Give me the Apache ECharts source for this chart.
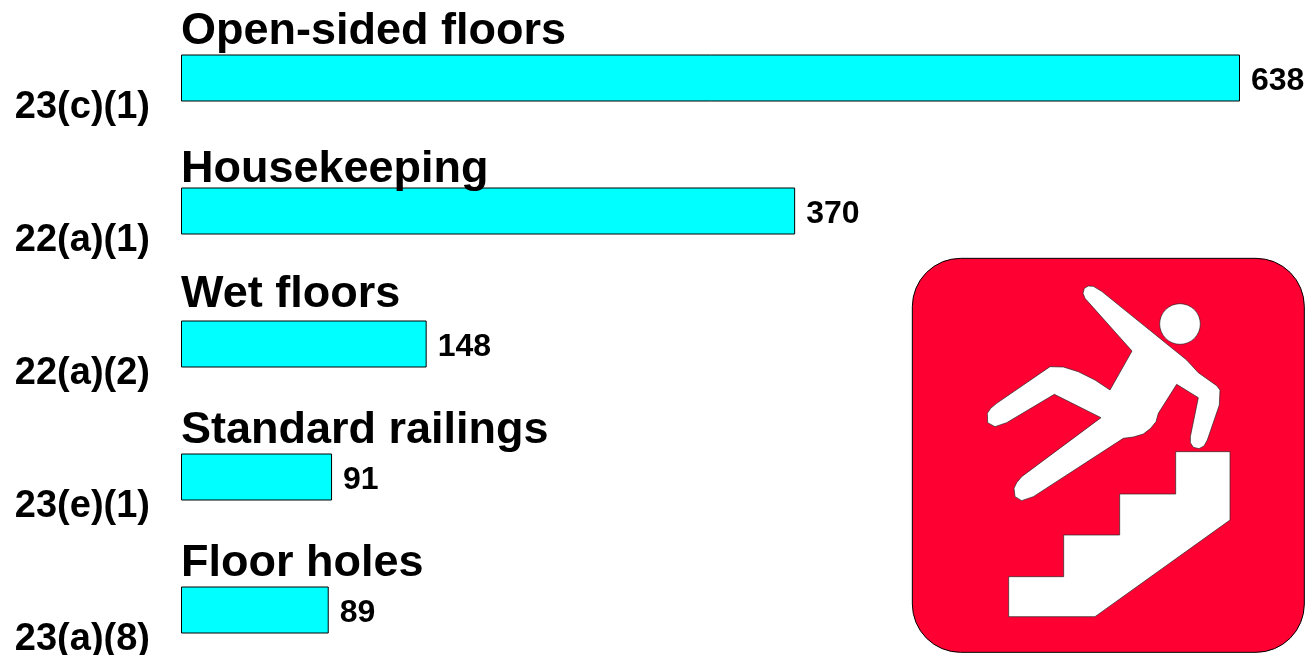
<!DOCTYPE html>
<html>
<head>
    <meta charset="utf-8">
    <title>ECharts</title>
    <script src="https://cdn.jsdelivr.net/npm/echarts/dist/echarts.min.js"></script>
    <style>html, body { margin: 0; background: #fff; }</style>
</head>
<body>
    <div id="main" style="width: 1309px;height:655px;"></div>
    <script>
        var codes = ['23(c)(1)', '22(a)(1)', '22(a)(2)', '23(e)(1)', '23(a)(8)'];
        var titles = ['Open-sided floors', 'Housekeeping', 'Wet floors', 'Standard railings', 'Floor holes'];
        var counts = [638, 370, 148, 91, 89];

        var FONT = '"Liberation Sans", Arial, sans-serif';
        // the titles do not sit at quite the same height above each bar
        var titleOffsets = [-45, -40, -48, -45, -45];

        // slip and fall sign, traced at 3x and scaled back down by the group
        var figurePoints = [
            [549, 130], [553, 115], [565, 108], [580, 109], [605, 124], [860, 330], [895, 368], [950, 407], [960, 420],
            [958, 465], [922, 570], [912, 588], [897, 596], [880, 592], [871, 578], [871, 560], [895, 443], [830, 403],
            [775, 490], [768, 515], [752, 535], [730, 552], [700, 561], [670, 565], [400, 740], [365, 752], [345, 740],
            [342, 715], [350, 698], [365, 680], [603, 503], [463, 433], [320, 518], [285, 530], [263, 518], [262, 490],
            [272, 475], [290, 460], [450, 350], [490, 351], [535, 365], [585, 390], [630, 420], [696, 303], [555, 145]
        ];
        var stairsPoints = [
            [827, 605], [990, 605], [990, 810], [585, 1100], [326, 1100], [326, 980],
            [491, 980], [491, 855], [659, 855], [659, 732], [827, 732]
        ];

        var myChart = echarts.init(document.getElementById('main'));
        var option = {
            animation: false,
            backgroundColor: '#fff',
            grid: { left: 181, top: 11.5, width: 1059, height: 665, outerBoundsMode: 'none' },
            xAxis: { type: 'value', min: 0, max: 638, show: false },
            yAxis: {
                type: 'category',
                inverse: true,
                data: codes,
                axisLine: { show: false },
                axisTick: { show: false },
                axisLabel: {
                    fontFamily: FONT,
                    fontWeight: 'bold',
                    fontSize: 38,
                    color: '#000',
                    margin: 31,
                    verticalAlign: 'top',
                    padding: [11, 0, 0, 0]
                }
            },
            series: [
                {
                    type: 'bar',
                    data: counts,
                    barWidth: 47,
                    barGap: '-100%',
                    itemStyle: { color: '#00ffff', borderColor: '#000', borderWidth: 1 },
                    label: {
                        show: true,
                        position: 'right',
                        distance: 11,
                        offset: [0, 3],
                        fontFamily: FONT,
                        fontWeight: 'bold',
                        fontSize: 32,
                        color: '#000'
                    }
                },
                {
                    type: 'bar',
                    data: counts.map(function (v, i) {
                        return { value: v, label: { position: [0, titleOffsets[i]] } };
                    }),
                    barWidth: 47,
                    z: 5,
                    itemStyle: { color: 'transparent' },
                    label: {
                        show: true,
                        fontFamily: FONT,
                        fontWeight: 'bold',
                        fontSize: 45,
                        color: '#000',
                        formatter: function (p) { return titles[p.dataIndex]; }
                    }
                }
            ],
            graphic: [
                {
                    type: 'group',
                    x: 900,
                    y: 250,
                    scaleX: 1 / 3,
                    scaleY: 1 / 3,
                    children: [
                        {
                            type: 'rect',
                            shape: { x: 37, y: 25, width: 1176, height: 1182, r: 145 },
                            style: { fill: '#ff0033', stroke: '#000', lineWidth: 3 }
                        },
                        {
                            type: 'polygon',
                            shape: { points: figurePoints },
                            style: { fill: '#fff', stroke: '#222', lineWidth: 2 }
                        },
                        {
                            type: 'circle',
                            shape: { cx: 840, cy: 222, r: 61 },
                            style: { fill: '#fff', stroke: '#222', lineWidth: 2 }
                        },
                        {
                            type: 'polygon',
                            shape: { points: stairsPoints },
                            style: { fill: '#fff', stroke: '#222', lineWidth: 2 }
                        }
                    ]
                }
            ]
        };

        myChart.setOption(option);
    </script>
</body>
</html>
